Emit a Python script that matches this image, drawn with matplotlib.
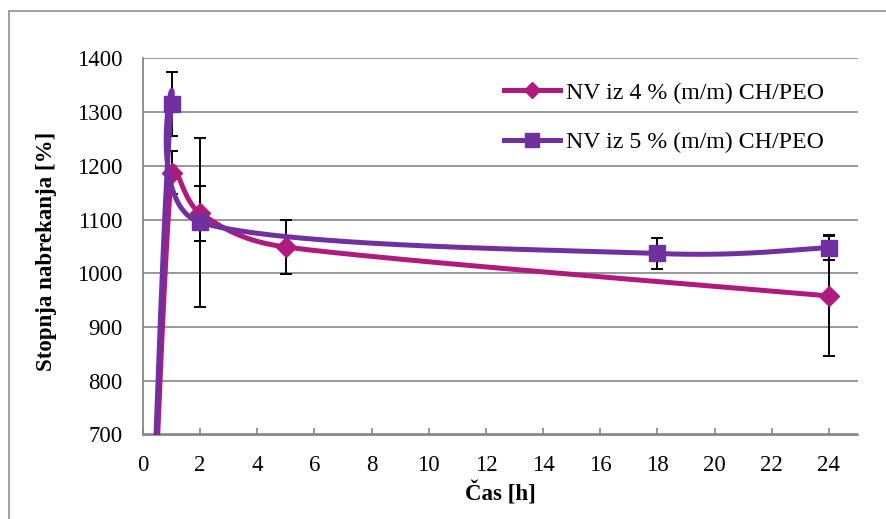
import numpy as np
import matplotlib
matplotlib.use('Agg')
import matplotlib.pyplot as plt
from matplotlib.lines import Line2D
from matplotlib.patches import Rectangle

# data
time_4 = [0, 1, 2, 5, 24]
swell_4 = [0, 1187, 1112, 1049, 958]
err_4 = [0, 40, 51, 50, 112]

time_5 = [0, 1, 2, 18, 24]
swell_5 = [0, 1315, 1095, 1037, 1048]
err_5 = [0, 60, 157, 29, 23]

labels = ['NV iz 4 % (m/m) CH/PEO', 'NV iz 5 % (m/m) CH/PEO']
x_ticks = list(range(0, 25, 2))
y_ticks = list(range(700, 1401, 100))

col_4 = '#B01A7C'
col_5 = '#7030A0'
grid_col = '#868686'

plt.rcParams['font.family'] = ['Liberation Serif', 'DejaVu Serif']
FS = 16.5


def excel_smooth(ax, xs, ys, n=60):
    # Excel-style bezier smoothing, computed in pixel space
    pts = ax.transData.transform(np.column_stack([xs, ys]))
    last = len(pts) - 1
    out = []
    for i in range(last):
        p0 = pts[max(i - 1, 0)]
        p1 = pts[i]
        p2 = pts[i + 1]
        p3 = pts[min(i + 2, last)]
        d12 = np.linalg.norm(p2 - p1)
        d02 = np.linalg.norm(p2 - p0)
        d13 = np.linalg.norm(p3 - p1)
        f1 = min(1 / 6, 0.5 * d12 / d02) if d02 > 0 else 0
        f2 = min(1 / 6, 0.5 * d12 / d13) if d13 > 0 else 0
        c1 = p1 + (p2 - p0) * f1
        c2 = p2 - (p3 - p1) * f2
        t = np.linspace(0, 1, n)[:, None]
        seg = ((1 - t) ** 3) * p1 + 3 * ((1 - t) ** 2) * t * c1 \
            + 3 * (1 - t) * t ** 2 * c2 + t ** 3 * p2
        out.append(seg)
    out = np.vstack(out)
    data = ax.transData.inverted().transform(out)
    return data[:, 0], data[:, 1]


fig = plt.figure(figsize=(8.86, 5.19), dpi=100)
ax = fig.add_axes([143 / 886, 1 - 434.5 / 519, 714.5 / 886, 376 / 519])

ax.set_xlim(0, 25)
ax.set_ylim(700, 1400)
ax.set_xticks(x_ticks)
ax.set_yticks(y_ticks)

# chart border
fig.patches.append(Rectangle((9 / 886, -0.1), 1.2, 1 - 11 / 519 + 0.1,
                             transform=fig.transFigure, fill=False,
                             edgecolor=grid_col, linewidth=1.1))

ax.grid(axis='y', color=grid_col, linewidth=1.2, zorder=0)
ax.set_axisbelow(True)
for s in ['top', 'right']:
    ax.spines[s].set_visible(False)
for s in ['left', 'bottom']:
    ax.spines[s].set_color(grid_col)
    ax.spines[s].set_linewidth(1.3)

ax.tick_params(axis='x', direction='in', length=5, width=1.2, color=grid_col,
               labelsize=FS, pad=15)
ax.tick_params(axis='y', length=0, labelsize=FS, pad=15)

# error bars
ax.errorbar(time_4, swell_4, yerr=err_4, fmt='none', ecolor='black',
            elinewidth=1.4, capsize=4.5, capthick=1.4, zorder=2)
ax.errorbar(time_5, swell_5, yerr=err_5, fmt='none', ecolor='black',
            elinewidth=1.4, capsize=4.5, capthick=1.4, zorder=2)

# smoothed lines
sx, sy = excel_smooth(ax, time_4, swell_4)
ax.plot(sx, sy, color=col_4, linewidth=3.6, zorder=3, solid_capstyle='butt')
ax.plot(time_4, swell_4, ls='none', marker='D', markersize=10.5,
        color=col_4, zorder=4)

sx, sy = excel_smooth(ax, time_5, swell_5)
ax.plot(sx, sy, color=col_5, linewidth=3.6, zorder=5, solid_capstyle='butt')
ax.plot(time_5, swell_5, ls='none', marker='s', markersize=12,
        color=col_5, zorder=6)

ax.set_xlabel('Čas [h]', fontsize=FS, fontweight='bold')
ax.xaxis.set_label_coords(0.5, -(494 - 434.5) / 376, transform=ax.transAxes)
ax.xaxis.label.set_va('center')
ax.set_ylabel('Stopnja nabrekanja [%]', fontsize=FS, fontweight='bold')
ax.yaxis.set_label_coords(-(143 - 47) / 714.5, (434.5 - 251) / 376,
                          transform=ax.transAxes)
ax.yaxis.label.set_va('center')

handles = [
    Line2D([], [], color=col_4, linewidth=3.6, marker='D', markersize=8),
    Line2D([], [], color=col_5, linewidth=3.6, marker='s', markersize=9.5),
]
ax.legend(handles, labels, loc='center left', frameon=False, fontsize=17.2,
          bbox_to_anchor=(504 / 886, 1 - 117.5 / 519),
          bbox_transform=fig.transFigure, borderpad=0, borderaxespad=0,
          handlelength=2.35, handletextpad=0.25, labelspacing=1.15)

fig.savefig('out.png', dpi=100)
